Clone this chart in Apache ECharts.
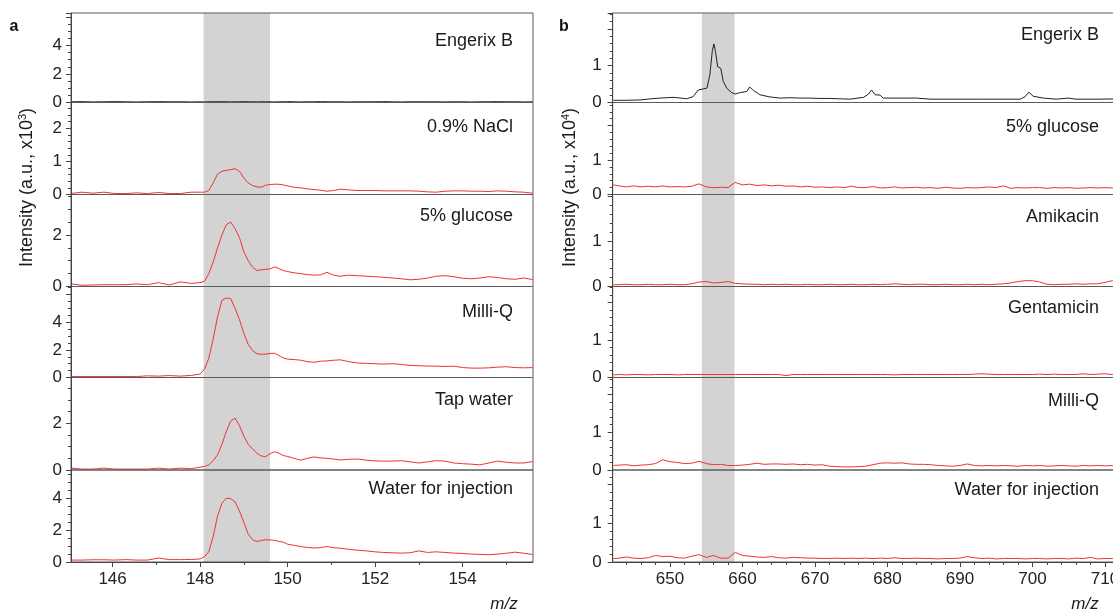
<!DOCTYPE html>
<html><head><meta charset="utf-8">
<script src="https://cdn.jsdelivr.net/npm/echarts@6/dist/echarts.min.js"></script>
<style>html,body{margin:0;padding:0;background:#fff}#c{width:1113px;height:612px}</style>
</head><body><div id="c"></div>
<script>
// ---------- DATA ----------
const L_NAMES = ['Engerix B', '0.9% NaCl', '5% glucose', 'Milli-Q', 'Tap water', 'Water for injection'];
const R_NAMES = ['Engerix B', '5% glucose', 'Amikacin', 'Gentamicin', 'Milli-Q', 'Water for injection'];

const L_X = [145.05,145.3,145.55,145.8,146.05,146.3,146.55,146.8,147.05,147.3,147.55,147.8,
  148.0,148.1,148.2,148.3,148.4,148.5,148.6,148.7,148.8,148.9,149.0,149.1,149.2,149.3,149.4,149.5,149.6,149.7,149.8,149.9,150.0,
  150.15,150.3,150.45,150.6,150.75,150.9,151.05,
  151.2,151.4,151.6,151.8,152.0,152.2,152.4,152.6,152.8,153.0,153.2,153.4,153.6,153.8,154.0,154.2,154.4,154.6,154.8,155.0,155.2,155.4,155.6];

const L_ENGERIX = [0.05,0.06,0.04,0.05,0.06,0.05,0.04,0.05,0.06,0.05,0.05,0.04,
  0.05,0.04,0.05,0.05,0.06,0.05,0.05,0.04,0.05,0.05,0.06,0.05,0.05,0.04,0.05,0.05,0.05,0.04,0.05,0.05,0.06,
  0.05,0.04,0.05,0.05,0.06,0.05,0.05,
  0.05,0.04,0.05,0.05,0.05,0.06,0.05,0.04,0.05,0.05,0.05,0.05,0.04,0.05,0.05,0.04,0.05,0.05,0.06,0.05,0.05,0.04,0.05];
const L_NACL = [0.03,0.07,0.04,0.07,0.03,0.03,0.05,0.03,0.06,0.03,0.03,0.07,
  0.07,0.07,0.12,0.35,0.62,0.7,0.73,0.75,0.78,0.7,0.5,0.35,0.27,0.23,0.22,0.28,0.3,0.31,0.31,0.29,0.26,
  0.22,0.2,0.17,0.15,0.13,0.1,0.12,
  0.16,0.14,0.12,0.12,0.12,0.11,0.11,0.11,0.11,0.1,0.08,0.07,0.1,0.11,0.11,0.1,0.1,0.09,0.11,0.1,0.08,0.07,0.04];
const L_GLUCOSE = [0.1,0.05,0.06,0.07,0.07,0.07,0.1,0.07,0.15,0.06,0.18,0.12,
  0.15,0.2,0.5,0.95,1.5,2.0,2.4,2.5,2.25,1.9,1.35,1.0,0.75,0.62,0.65,0.67,0.68,0.76,0.7,0.62,0.58,
  0.53,0.5,0.46,0.44,0.45,0.55,0.44,
  0.4,0.44,0.42,0.4,0.38,0.36,0.33,0.3,0.26,0.28,0.33,0.4,0.42,0.38,0.32,0.3,0.33,0.38,0.35,0.3,0.28,0.33,0.27];
const L_MILLIQ = [0.07,0.07,0.07,0.07,0.07,0.07,0.07,0.12,0.1,0.14,0.1,0.15,
  0.25,0.6,1.4,2.8,4.4,5.6,5.75,5.72,5.0,4.2,3.2,2.4,1.95,1.72,1.68,1.7,1.74,1.76,1.6,1.42,1.33,
  1.3,1.25,1.15,1.1,1.18,1.2,1.25,
  1.28,1.15,1.05,1.02,1.0,0.97,1.0,0.95,0.88,0.85,0.83,0.82,0.8,0.82,0.72,0.68,0.68,0.7,0.75,0.78,0.72,0.7,0.72];
const L_TAP = [0.08,0.04,0.04,0.08,0.04,0.04,0.04,0.04,0.08,0.04,0.08,0.06,
  0.12,0.15,0.22,0.4,0.65,1.1,1.65,2.1,2.22,1.9,1.45,1.1,0.9,0.72,0.6,0.57,0.7,0.78,0.72,0.62,0.58,
  0.5,0.42,0.5,0.56,0.52,0.5,0.47,
  0.43,0.46,0.47,0.42,0.39,0.38,0.38,0.4,0.35,0.3,0.35,0.4,0.38,0.3,0.27,0.25,0.22,0.3,0.38,0.33,0.3,0.3,0.36];
const L_WFI = [0.12,0.12,0.14,0.14,0.12,0.15,0.12,0.12,0.25,0.15,0.15,0.16,
  0.19,0.33,0.65,1.6,2.9,3.7,4.02,3.98,3.79,3.2,2.5,1.75,1.4,1.29,1.36,1.4,1.39,1.36,1.3,1.25,1.12,
  1.05,0.97,0.92,0.88,0.9,0.97,0.9,
  0.87,0.8,0.74,0.7,0.64,0.6,0.58,0.56,0.58,0.7,0.6,0.64,0.6,0.56,0.54,0.5,0.48,0.46,0.5,0.55,0.62,0.55,0.47];

const R_ENG_X = [642.2,644,646,647.3,648.6,650.4,651.5,652.3,653.2,653.9,654.4,655.1,655.5,655.85,656.07,656.35,656.58,657.0,657.36,657.82,
  658.5,659.0,659.7,660.6,661.0,661.5,662.4,663.8,665.2,666.6,668,669.3,670.5,672.1,673.5,674.8,676.7,677.4,677.8,678.3,679.0,679.4,
  682,684,686,690,692.3,695,698.3,699.0,699.5,700.1,701.5,703.3,704.9,706,708.9,712];
const R_ENG_Y = [0.06,0.06,0.07,0.1,0.12,0.14,0.12,0.1,0.16,0.34,0.36,0.39,0.75,1.42,1.59,1.29,0.97,0.93,0.57,0.39,
  0.27,0.23,0.27,0.3,0.42,0.33,0.21,0.15,0.12,0.13,0.12,0.12,0.11,0.11,0.1,0.09,0.14,0.23,0.34,0.21,0.2,0.12,
  0.12,0.12,0.09,0.09,0.09,0.09,0.09,0.16,0.28,0.17,0.12,0.09,0.12,0.09,0.09,0.1];

const R_X = [642.2,643,644,645,646,647,648,649,650,651,652,653,654,655,656,657,658,659,660,661,662,
  663,664,665,666,667,668,669,670,671,672,673,674,675,676,677,678,679,680,681,682,
  683,684,685,686,687,688,689,690,691,692,693,694,695,696,697,698,699,700,701,702,
  703,704,705,706,707,708,709,710,711,712];
const R_GLUCOSE = [0.28,
  0.25,0.22,0.25,0.22,0.24,0.22,0.25,0.22,0.23,0.22,
  0.24,0.31,0.22,0.2,0.21,0.2,0.35,0.28,0.3,0.26,
  0.28,0.25,0.27,0.24,0.25,0.22,0.24,0.21,0.22,0.2,
  0.22,0.2,0.24,0.2,0.2,0.23,0.19,0.2,0.22,0.19,
  0.2,0.21,0.19,0.2,0.18,0.21,0.19,0.18,0.2,0.19,
  0.2,0.22,0.2,0.25,0.18,0.2,0.19,0.2,0.2,0.18,
  0.2,0.19,0.2,0.18,0.19,0.2,0.19,0.2,0.19,0.19];
const R_AMIKACIN = [0.04,
  0.04,0.05,0.04,0.04,0.05,0.04,0.04,0.05,0.04,0.04,
  0.06,0.1,0.11,0.08,0.09,0.11,0.07,0.06,0.05,0.05,
  0.04,0.05,0.04,0.05,0.04,0.04,0.05,0.04,0.04,0.05,
  0.04,0.04,0.05,0.04,0.04,0.05,0.04,0.05,0.06,0.05,
  0.04,0.05,0.05,0.04,0.04,0.05,0.04,0.04,0.05,0.04,
  0.05,0.04,0.05,0.06,0.08,0.11,0.13,0.13,0.1,0.05,
  0.04,0.05,0.05,0.06,0.05,0.06,0.06,0.09,0.13,0.08];
const R_GENTAMICIN = [0.07,
  0.08,0.07,0.08,0.08,0.07,0.08,0.08,0.08,0.07,0.08,
  0.08,0.08,0.08,0.08,0.08,0.08,0.08,0.08,0.08,0.08,
  0.08,0.08,0.08,0.05,0.08,0.08,0.08,0.08,0.08,0.08,
  0.08,0.08,0.08,0.08,0.08,0.08,0.08,0.08,0.07,0.08,
  0.08,0.08,0.08,0.08,0.08,0.08,0.08,0.08,0.08,0.09,
  0.1,0.09,0.08,0.08,0.08,0.08,0.08,0.08,0.09,0.08,
  0.09,0.08,0.08,0.08,0.1,0.08,0.09,0.1,0.08,0.09];
const R_MILLIQ = [0.12,
  0.13,0.14,0.11,0.13,0.14,0.17,0.27,0.22,0.2,0.17,
  0.18,0.23,0.17,0.14,0.15,0.12,0.12,0.13,0.15,0.18,
  0.15,0.16,0.16,0.15,0.16,0.14,0.15,0.13,0.14,0.1,
  0.09,0.08,0.08,0.09,0.1,0.14,0.18,0.19,0.18,0.19,
  0.16,0.15,0.15,0.14,0.12,0.11,0.1,0.12,0.16,0.12,
  0.11,0.12,0.11,0.12,0.11,0.1,0.12,0.11,0.12,0.1,
  0.11,0.12,0.11,0.1,0.12,0.11,0.12,0.11,0.12,0.11];
const R_WFI = [0.09,
  0.1,0.13,0.1,0.09,0.11,0.17,0.14,0.15,0.11,0.1,
  0.15,0.19,0.12,0.17,0.1,0.1,0.25,0.17,0.15,0.13,
  0.12,0.14,0.11,0.1,0.12,0.11,0.1,0.1,0.09,0.09,
  0.1,0.09,0.1,0.09,0.1,0.09,0.1,0.09,0.11,0.09,
  0.09,0.1,0.09,0.09,0.08,0.09,0.09,0.1,0.14,0.11,
  0.09,0.1,0.08,0.09,0.09,0.09,0.08,0.09,0.09,0.08,
  0.09,0.09,0.08,0.1,0.09,0.12,0.08,0.09,0.09,0.09];

const L_YMAX = [6.28, 2.78, 3.57, 6.59, 3.96, 5.79];
const L_YINT = [2, 1, 2, 2, 2, 2];
const L_YMINOR = [4, 5, 4, 4, 4, 4];
const L_YTICKS = [[0,2,4],[0,1,2],[0,2],[0,2,4],[0,2],[0,2,4]];
const R_YMAX = [2.43, 2.67, 2.05, 2.43, 2.45, 2.38];
const R_YINT = [1, 1, 1, 1, 1, 1];
const R_YMINOR = [5, 5, 5, 5, 5, 5];
const R_YTICKS = [[0,1],[0,1],[0,1],[0,1],[0,1],[0,1]];

const L_XTICKS = [146, 148, 150, 152, 154];
const L_XMINOR = [147, 149, 151, 153, 155];
const R_XTICKS = [650, 660, 670, 680, 690, 700, 710];
const R_XMINOR = [644,646,648,652,654,656,658,662,664,666,668,672,674,676,678,682,684,686,688,692,694,696,698,702,704,706,708,712];
const L_BAND = [148.08, 149.6];
const R_BAND = [654.4, 658.9];
const L_XRANGE = [145.05, 155.61];
const R_XRANGE = [642.1, 712.49];

// ---------- LAYOUT ----------
const FONT = "'Liberation Sans', Arial, Helvetica, sans-serif";
const TOPS = [13, 102.5, 194.5, 286.5, 377.5, 470, 562];
const RED = '#f03232', BLACK = '#222222', AXC = '#444444';

const grids = [], xAxes = [], yAxes = [], series = [];

function addSide(cfg) {
  for (let p = 0; p < 6; p++) {
    const g = grids.length;
    grids.push({ left: cfg.left, width: cfg.width, top: TOPS[p], height: TOPS[p + 1] - TOPS[p],
      outerBoundsMode: 'none', containLabel: false,
      show: true, borderColor: '#5a5a5a', borderWidth: 1, backgroundColor: 'transparent', z: 5 });
    const bottom = p === 5;
    const xi = xAxes.length;
    xAxes.push({ gridIndex: g, type: 'value', min: cfg.xr[0], max: cfg.xr[1], z: 6,
      axisLine: { show: bottom, onZero: false, lineStyle: { color: AXC, width: 1 } },
      axisTick: { show: bottom, customValues: cfg.xt, length: 5, lineStyle: { color: AXC } },
      axisLabel: { show: bottom, customValues: cfg.xt, fontSize: 17, color: '#222', fontFamily: FONT, margin: 9 },
      splitLine: { show: false } });
    if (bottom) {
      xAxes.push({ gridIndex: g, type: 'value', min: cfg.xr[0], max: cfg.xr[1], z: 6, position: 'bottom',
        axisLine: { show: false }, axisLabel: { show: false }, splitLine: { show: false },
        axisTick: { show: true, customValues: cfg.xm, length: 3, lineStyle: { color: AXC } } });
    }
    const yi = yAxes.length;
    const ticks = cfg.yt[p];
    yAxes.push({ gridIndex: g, type: 'value', min: 0, max: cfg.ymax[p], interval: cfg.yint[p], z: 6,
      axisLine: { show: true, onZero: false, lineStyle: { color: AXC, width: 1 } },
      axisTick: { show: true, length: 5, lineStyle: { color: AXC } },
      minorTick: { show: true, splitNumber: cfg.yminor[p], length: 3, lineStyle: { color: AXC } },
      axisLabel: { showMaxLabel: false, fontSize: 17, color: '#222', fontFamily: FONT, margin: cfg.lm,
        formatter: v => ticks.some(t => Math.abs(t - v) < 1e-6) ? String(Math.round(v)) : '' },
      splitLine: { show: false }, minorSplitLine: { show: false } });
    const xs = cfg.xs[p], ys = cfg.ys[p];
    series.push({ type: 'line', xAxisIndex: xi, yAxisIndex: yi, data: xs.map((x, i) => [x, ys[i]]),
      symbol: 'none', showSymbol: false, silent: true, animation: false, z: 3,
      lineStyle: { width: 1, color: p === 0 ? BLACK : RED },
      markArea: { silent: true, z: 1, itemStyle: { color: '#d3d3d3' }, label: { show: false },
        data: [[{ xAxis: cfg.band[0] }, { xAxis: cfg.band[1] }]] } });
  }
}

addSide({ left: 71, width: 462, xr: L_XRANGE, xt: L_XTICKS, xm: L_XMINOR, band: L_BAND,
  ymax: L_YMAX, yint: L_YINT, yminor: L_YMINOR, yt: L_YTICKS, lm: 9,
  xs: [L_X, L_X, L_X, L_X, L_X, L_X], ys: [L_ENGERIX, L_NACL, L_GLUCOSE, L_MILLIQ, L_TAP, L_WFI] });
addSide({ left: 612.7, width: 510.3, xr: R_XRANGE, xt: R_XTICKS, xm: R_XMINOR, band: R_BAND,
  ymax: R_YMAX, yint: R_YINT, yminor: R_YMINOR, yt: R_YTICKS, lm: 11,
  xs: [R_ENG_X, R_X, R_X, R_X, R_X, R_X], ys: [R_ENG_Y, R_GLUCOSE, R_AMIKACIN, R_GENTAMICIN, R_MILLIQ, R_WFI] });

const L_LABEL_Y = [41.5, 127.5, 216, 312.5, 400.5, 489];
const R_LABEL_Y = [35, 126.7, 216.7, 308.3, 401, 490];
const graphics = [];
function panelText(txt, x, y) {
  graphics.push({ type: 'text', x: x, y: y, z: 20, silent: true,
    style: { text: txt, font: '18px ' + FONT, fill: '#1a1a1a', align: 'right', verticalAlign: 'middle' } });
}
L_NAMES.forEach((n, i) => panelText(n, 513, L_LABEL_Y[i]));
R_NAMES.forEach((n, i) => panelText(n, 1099, R_LABEL_Y[i]));
function yTitle(x, sup) {
  graphics.push({ type: 'text', x: x, y: 187.5, rotation: Math.PI / 2, z: 20, silent: true,
    style: { text: '{a|Intensity (a.u., x10}{s|' + sup + '}{a|)}', align: 'center', verticalAlign: 'middle', fill: '#1a1a1a',
      rich: { a: { fontSize: 18, fontFamily: FONT, fill: '#1a1a1a', lineHeight: 20 },
              s: { fontSize: 11, fontFamily: FONT, fill: '#1a1a1a', verticalAlign: 'top', lineHeight: 20 } } } });
}
yTitle(27, '3');
yTitle(570, '4');
graphics.push({ type: 'text', x: 14, y: 27, z: 20, silent: true,
  style: { text: 'a', font: 'bold 16px ' + FONT, fill: '#111', align: 'center', verticalAlign: 'middle' } });
graphics.push({ type: 'text', x: 564, y: 27, z: 20, silent: true,
  style: { text: 'b', font: 'bold 16px ' + FONT, fill: '#111', align: 'center', verticalAlign: 'middle' } });
graphics.push({ type: 'text', x: 504, y: 604, z: 20, silent: true,
  style: { text: 'm/z', font: 'italic 17px ' + FONT, fill: '#1a1a1a', align: 'center', verticalAlign: 'middle' } });
graphics.push({ type: 'text', x: 1085, y: 604, z: 20, silent: true,
  style: { text: 'm/z', font: 'italic 17px ' + FONT, fill: '#1a1a1a', align: 'center', verticalAlign: 'middle' } });

const chart = echarts.init(document.getElementById('c'), null, { renderer: 'canvas' });
chart.setOption({
  animation: false,
  backgroundColor: '#ffffff',
  textStyle: { fontFamily: FONT },
  grid: grids, xAxis: xAxes, yAxis: yAxes, series: series, graphic: graphics
});
</script></body></html>
